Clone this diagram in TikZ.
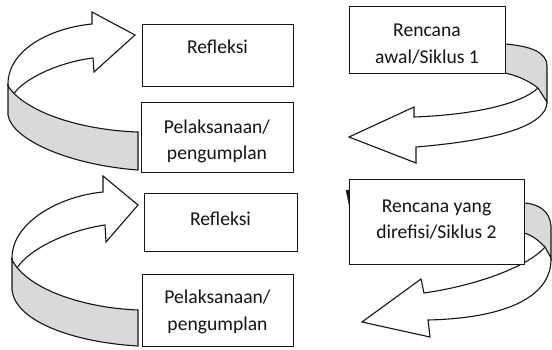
\documentclass[tikz,border=0pt]{standalone}
\usepackage{fontspec}
\setmainfont{Carlito}
\definecolor{ribbon}{RGB}{217,217,217}
\definecolor{ink}{RGB}{20,20,20}
\tikzset{
  box/.style={draw=ink, fill=white, line width=1.1pt, inner sep=0pt, anchor=north west},
  lbl/.style={anchor=base, inner sep=0pt, text=ink, font=\fontsize{19.6}{24}\selectfont},
  arrowline/.style={draw=ink, line width=1.1pt, line join=miter},
  band/.style={draw=ink, fill=ribbon, line width=1.1pt}
}
\begin{document}
\begin{tikzpicture}[x=1pt,y=-1pt]
\useasboundingbox (0,0) rectangle (552,349);
\fill[white] (0,0) rectangle (552,349);

% ---- left arrow 1 ----
\draw[band] (8,84) -- (8,115) .. controls (12,140) and (70,165) .. (138,170) -- (138,132) .. controls (80,130) and (25,112) .. (8,86) -- cycle;
\draw[arrowline] (8,86) -- (8,84) .. controls (8,50) and (50,28) .. (92,24) -- (92,12) -- (135,35) -- (94,72) -- (93,58) .. controls (60,62) and (25,78) .. (14,93.5);

% ---- left arrow 2 ----
\draw[band] (12,258) -- (12,290) .. controls (15,320) and (70,342) .. (138,346) -- (138,310) .. controls (85,308) and (28,290) .. (12,260) -- cycle;
\draw[arrowline] (12,260) -- (12,258) .. controls (12,222) and (60,196) .. (103,192) -- (103,176) -- (138,205) -- (106,242) -- (105,225) .. controls (70,230) and (30,248) .. (17,268);

% ---- right arrow 1 ----
\draw[band] (505,44) .. controls (530,46) and (547,52) .. (547,66) -- (547,102) -- (538,88) .. controls (528,80) and (515,75) .. (505,73) -- cycle;
\draw[arrowline] (547,102) .. controls (547,125) and (500,140) .. (416,147) -- (416,163) -- (349,137) -- (414,107) -- (414,117) .. controls (470,115) and (520,105) .. (538,88);

% ---- right arrow 2 ----
\draw[band] (524,203) .. controls (540,204) and (550,212) .. (551,226) -- (551,258) -- (545,247) .. controls (538,240) and (532,235) .. (524,233) -- cycle;
\draw[arrowline] (551,258) .. controls (552,295) and (510,318) .. (428,320) -- (430,337) -- (362,322) -- (421,279) -- (424,293) .. controls (480,285) and (530,265) .. (545,247);
\draw[draw=ink, fill=ink, line width=0.4pt] (346,190) -- (350,190) -- (350,209) -- cycle;

% ---- boxes ----
\node[box, minimum width=151pt, minimum height=62pt] (b1) at (142,24) {};
\node[box, minimum width=152pt, minimum height=70pt] (b2) at (141,102) {};
\node[box, minimum width=156pt, minimum height=67pt] (b3) at (349,6) {};
\node[box, minimum width=153pt, minimum height=58pt] (b4) at (144,193) {};
\node[box, minimum width=151pt, minimum height=72pt] (b5) at (142,274) {};
\node[box, minimum width=175pt, minimum height=85pt] (b6) at (349,179) {};

% ---- texts ----
\node[lbl] (t1) at (217.5,53) {Refleksi};
\node[lbl] (t2a) at (217,133) {Pelaksanaan/};
\node[lbl] (t2b) at (217,159) {pengumplan};
\node[lbl] (t3a) at (427,36.7) {Rencana};
\node[lbl] (t3b) at (427,63.3) {awal/Siklus 1};
\node[lbl] (t4) at (220.5,225) {Refleksi};
\node[lbl] (t5a) at (217.5,303) {Pelaksanaan/};
\node[lbl] (t5b) at (217.5,330) {pengumplan};
\node[lbl] (t6a) at (436.5,212) {Rencana yang};
\node[lbl] (t6b) at (436.5,238) {direfisi/Siklus 2};
\end{tikzpicture}
\end{document}
